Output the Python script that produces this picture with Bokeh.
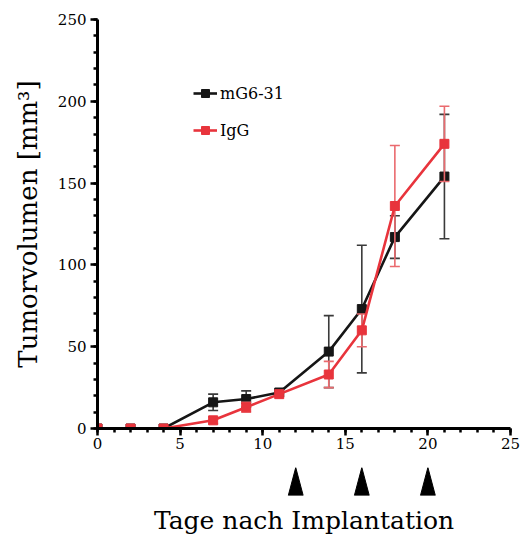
from bokeh.plotting import figure
from bokeh.models import Range1d, SingleIntervalTicker, FixedTicker, Legend, LegendItem
from bokeh.layouts import column
from bokeh.embed import file_html
from bokeh.resources import INLINE

# ---- data ----
days = [0, 2, 4, 7, 9, 11, 14, 16, 18, 21]
mg6 = [0, 0, 0, 16, 18, 22, 47, 73, 117, 154]
mg6_err = [0, 0, 0, 5, 5, 0, 22, 39, 13, 38]
igg = [0, 0, 0, 5, 13, 21, 33, 60, 136, 174]
igg_err = [0, 0, 0, 2, 3, 0, 8, 10, 37, 23]
treatment_days = [12, 16, 20]
series_names = ["mG6-31", "IgG"]

FONT = "DejaVu Serif"
BLACK = "#161616"
RED = "#e8343c"

p = figure(width=520, height=456, x_range=Range1d(0, 25), y_range=Range1d(0, 250),
           output_backend="svg", toolbar_location=None,
           min_border_left=97, min_border_right=10, min_border_top=19, min_border_bottom=28)
p.grid.visible = False
p.outline_line_color = None
p.background_fill_color = "white"

for ax in (p.xaxis[0], p.yaxis[0]):
    ax.axis_line_width = 3
    ax.axis_line_color = "black"
    ax.major_tick_line_width = 2.5
    ax.minor_tick_line_width = 2.5
    ax.major_tick_in = 0
    ax.major_tick_out = 7
    ax.minor_tick_in = 0
    ax.minor_tick_out = 4
    ax.major_label_text_font = FONT
    ax.major_label_text_font_size = "15px"
    ax.major_label_text_color = "black"

p.xaxis.ticker = SingleIntervalTicker(interval=5, num_minor_ticks=5)
p.yaxis.ticker = SingleIntervalTicker(interval=50, num_minor_ticks=5)
p.xaxis.major_label_standoff = 2
p.yaxis.major_label_standoff = 4
p.yaxis.axis_label = "Tumorvolumen [mm³]"
p.yaxis.axis_label_text_font = FONT
p.yaxis.axis_label_text_font_size = "26px"
p.yaxis.axis_label_text_font_style = "normal"
p.yaxis.axis_label_text_color = "black"
p.yaxis.axis_label_standoff = 12

legend_items = []
for name, vals, errs, col, ecol in [(series_names[0], mg6, mg6_err, BLACK, "#3a3a3a"),
                                    (series_names[1], igg, igg_err, RED, "#ea6a6e")]:
    ex = [d for d, e in zip(days, errs) if e > 0]
    lo = [v - e for v, e in zip(vals, errs) if e > 0]
    hi = [v + e for v, e in zip(vals, errs) if e > 0]
    p.segment(x0=ex, y0=lo, x1=ex, y1=hi, line_color=ecol, line_width=1.6)
    p.scatter(x=ex, y=lo, marker="dash", size=10, line_color=ecol, line_width=1.6)
    p.scatter(x=ex, y=hi, marker="dash", size=10, line_color=ecol, line_width=1.6)
    ln = p.line(days, vals, line_color=col, line_width=2.6)
    mk = p.scatter(days, vals, marker="square", size=9, fill_color=col, line_color=col)
    legend_items.append(LegendItem(label=name, renderers=[ln, mk]))

legend = Legend(items=legend_items, location=(96, 288), padding=0, margin=0,
                border_line_color=None, background_fill_alpha=0,
                label_text_font=FONT, label_text_font_size="16px", label_text_color="black",
                glyph_width=24, glyph_height=20, label_height=20, spacing=17, label_standoff=3)
p.add_layout(legend)

# ---- lower strip: treatment arrows and x title ----
p2 = figure(width=520, height=83, x_range=p.x_range, y_range=Range1d(0, 1),
            output_backend="svg", toolbar_location=None, y_axis_location=None,
            min_border_left=97, min_border_right=10, min_border_top=11, min_border_bottom=44)
p2.grid.visible = False
p2.outline_line_color = None
ax2 = p2.xaxis[0]
ax2.ticker = FixedTicker(ticks=[])
ax2.axis_line_color = None
ax2.major_tick_line_color = None
ax2.minor_tick_line_color = None
ax2.axis_label = "Tage nach Implantation"
ax2.axis_label_text_font = FONT
ax2.axis_label_text_font_size = "25px"
ax2.axis_label_text_font_style = "normal"
ax2.axis_label_text_color = "black"
ax2.axis_label_standoff = 10

hw = 0.45
p2.patches(xs=[[d - hw, d, d + hw] for d in treatment_days],
           ys=[[0, 1, 0] for _ in treatment_days], fill_color="black", line_color="black")

layout = column(p, p2, spacing=0)
open("out.html", "w").write(file_html(layout, INLINE))
